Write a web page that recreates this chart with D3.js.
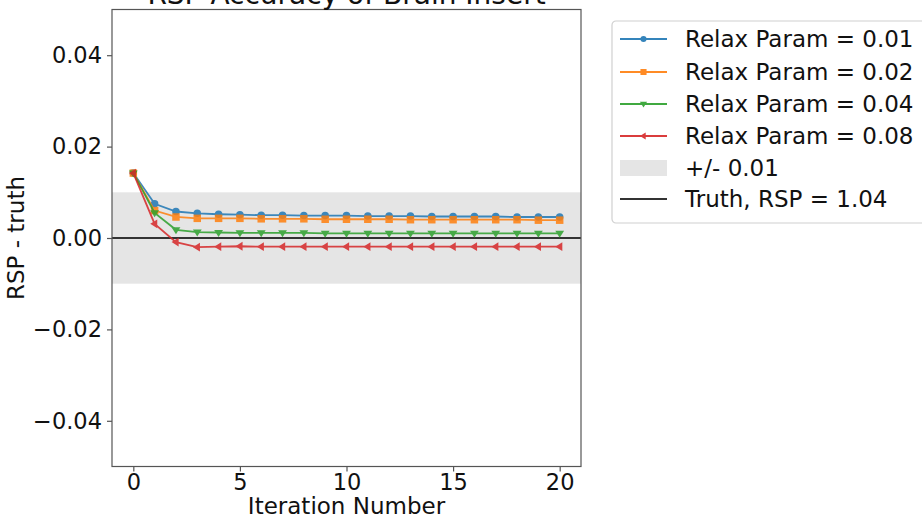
<!DOCTYPE html>
<html>
<head>
<meta charset="utf-8">
<script src="https://cdn.jsdelivr.net/npm/d3@7"></script>
<style>
  body { margin: 0; background: #fff; }
  svg { font-family: "DejaVu Sans", sans-serif; }
</style>
</head>
<body>
<div id="chart"></div>
<script>
// iteration numbers and RSP - truth per relax parameter
var iterations = d3.range(0, 21);
var relax001 = [0.0142, 0.0075, 0.0058, 0.0054, 0.0052, 0.0051, 0.0050, 0.0050, 0.0049, 0.0049, 0.0049,
                0.0048, 0.0048, 0.0048, 0.0047, 0.0047, 0.0047, 0.0047, 0.0046, 0.0046, 0.0046];
var relax002 = [0.0142, 0.0060, 0.0046, 0.0043, 0.0043, 0.0043, 0.0042, 0.0042, 0.0042, 0.0041, 0.0041,
                0.0041, 0.0041, 0.0040, 0.0040, 0.0040, 0.0040, 0.0040, 0.0040, 0.0039, 0.0039];
var relax004 = [0.0142, 0.0055, 0.0018, 0.0013, 0.0012, 0.0011, 0.0011, 0.0011, 0.0011, 0.0010, 0.0010,
                0.0010, 0.0010, 0.0010, 0.0010, 0.0010, 0.0010, 0.0010, 0.0010, 0.0010, 0.0010];
var relax008 = [0.0142, 0.0031, -0.0009, -0.0020, -0.0019, -0.0018, -0.0019, -0.0019, -0.0019, -0.0019, -0.0019,
                -0.0019, -0.0019, -0.0019, -0.0019, -0.0019, -0.0019, -0.0019, -0.0019, -0.0019, -0.0019];
var seriesNames = ["Relax Param = 0.01", "Relax Param = 0.02", "Relax Param = 0.04", "Relax Param = 0.08"];
var tolerance = 0.01;
var truthRSP = 1.04;
var xTicks = [0, 5, 10, 15, 20];
var yTicks = [-0.04, -0.02, 0, 0.02, 0.04];

var colors = ["#1f77b4", "#ff7f0e", "#2ca02c", "#d62728"];
var symbols = ["circle", "square", "down", "left"];
var allSeries = [relax001, relax002, relax004, relax008];

var W = 922, H = 518;
var margin = {top: 9.5, left: 112, right: 922 - 581, bottom: 518 - 466.5};
var width = W - margin.left - margin.right,
    height = H - margin.top - margin.bottom;

var svg = d3.select("#chart").append("svg")
    .attr("width", W).attr("height", H);
var g = svg.append("g")
    .attr("transform", "translate(" + margin.left + "," + margin.top + ")");

var x = d3.scaleLinear().domain([-1, 21]).range([0, width]);
var y = d3.scaleLinear().domain([-0.05, 0.05]).range([height, 0]);

// marker shapes, r = half size
function markerPath(s, cx, cy, r) {
  if (s === "down") {
    return "M" + (cx - r) + "," + (cy - r * 0.6) + "L" + (cx + r) + "," + (cy - r * 0.6) + "L" + cx + "," + (cy + r) + "Z";
  }
  if (s === "left") {
    return "M" + (cx + r * 0.6) + "," + (cy - r) + "L" + (cx + r * 0.6) + "," + (cy + r) + "L" + (cx - r) + "," + cy + "Z";
  }
  if (s === "square") {
    var h = r * 0.85;
    return "M" + (cx - h) + "," + (cy - h) + "h" + (2 * h) + "v" + (2 * h) + "h" + (-2 * h) + "Z";
  }
  var c = r * 0.85;
  return "M" + (cx - c) + "," + cy + "a" + c + "," + c + " 0 1,0 " + (2 * c) + ",0a" + c + "," + c + " 0 1,0 " + (-2 * c) + ",0Z";
}

// shaded tolerance band
g.append("rect")
    .attr("x", 0).attr("width", width)
    .attr("y", y(tolerance)).attr("height", y(-tolerance) - y(tolerance))
    .attr("fill", "#e5e5e5");

// truth line
g.append("line")
    .attr("x1", 0).attr("x2", width)
    .attr("y1", y(0)).attr("y2", y(0))
    .attr("stroke", "#333").attr("stroke-width", 1.8);

var line = d3.line()
    .x(function (d, i) { return x(iterations[i]); })
    .y(function (d) { return y(d); });

allSeries.forEach(function (vals, k) {
  var sg = g.append("g").attr("opacity", 0.85);
  sg.append("path")
      .datum(vals)
      .attr("d", line)
      .attr("fill", "none")
      .attr("stroke", colors[k])
      .attr("stroke-width", 1.8);
  sg.selectAll("path.m")
      .data(vals)
      .enter()
      .append("path")
      .attr("class", "m")
      .attr("fill", colors[k])
      .attr("d", function (d, i) { return markerPath(symbols[k], x(iterations[i]), y(d), 4.4); });
});

// frame
g.append("rect")
    .attr("width", width).attr("height", height)
    .attr("fill", "none").attr("stroke", "#555").attr("stroke-width", 1.2);

// axes
var xAxis = g.append("g")
    .attr("transform", "translate(0," + height + ")")
    .call(d3.axisBottom(x).tickValues(xTicks).tickSize(5).tickPadding(3).tickFormat(d3.format("d")));
var yAxis = g.append("g")
    .call(d3.axisLeft(y).tickValues(yTicks).tickSize(5).tickPadding(5)
      .tickFormat(function (d) { return d3.format(".2f")(d).replace("-", "\u2212"); }));
[xAxis, yAxis].forEach(function (a) {
  a.select(".domain").remove();
  a.selectAll("line").attr("stroke", "#555").attr("stroke-width", 1.2);
  a.selectAll("text").attr("font-size", 22.5).attr("fill", "#111")
      .attr("font-family", "DejaVu Sans");
});

// title and labels
svg.append("text")
    .attr("x", margin.left + width / 2).attr("y", 4)
    .attr("text-anchor", "middle").attr("font-size", 28).attr("fill", "#111")
    .text("RSP Accuracy of Brain Insert");
svg.append("text")
    .attr("x", margin.left + width / 2).attr("y", 514)
    .attr("text-anchor", "middle").attr("font-size", 23).attr("fill", "#111")
    .text("Iteration Number");
svg.append("text")
    .attr("transform", "translate(24," + (margin.top + height / 2) + ") rotate(-90)")
    .attr("text-anchor", "middle").attr("font-size", 23).attr("fill", "#111")
    .text("RSP - truth");

// legend
var leg = svg.append("g").attr("transform", "translate(612,21)");
leg.append("rect")
    .attr("width", 330).attr("height", 202).attr("rx", 4)
    .attr("fill", "#fff").attr("stroke", "#d0d0d0").attr("stroke-width", 1.2);
var rowY = [18, 51, 83, 115, 147, 178];
seriesNames.forEach(function (name, k) {
  var ly = rowY[k];
  var r = leg.append("g").attr("opacity", 0.9);
  r.append("line").attr("x1", 8).attr("x2", 55).attr("y1", ly).attr("y2", ly)
      .attr("stroke", colors[k]).attr("stroke-width", 1.8);
  r.append("path").attr("d", markerPath(symbols[k], 31.5, ly, 3.6)).attr("fill", colors[k]);
  leg.append("text").attr("x", 73).attr("y", ly).attr("dy", "0.35em")
      .attr("font-size", 23).attr("fill", "#111").text(name);
});
leg.append("rect").attr("x", 8).attr("y", rowY[4] - 8).attr("width", 47).attr("height", 16)
    .attr("fill", "#e5e5e5");
leg.append("text").attr("x", 73).attr("y", rowY[4]).attr("dy", "0.35em")
    .attr("font-size", 23).attr("fill", "#111").text("+/- " + tolerance);
leg.append("line").attr("x1", 8).attr("x2", 55).attr("y1", rowY[5]).attr("y2", rowY[5])
    .attr("stroke", "#333").attr("stroke-width", 1.8);
leg.append("text").attr("x", 73).attr("y", rowY[5]).attr("dy", "0.35em")
    .attr("font-size", 23).attr("fill", "#111").text("Truth, RSP = " + truthRSP.toFixed(2));
</script>
</body>
</html>
